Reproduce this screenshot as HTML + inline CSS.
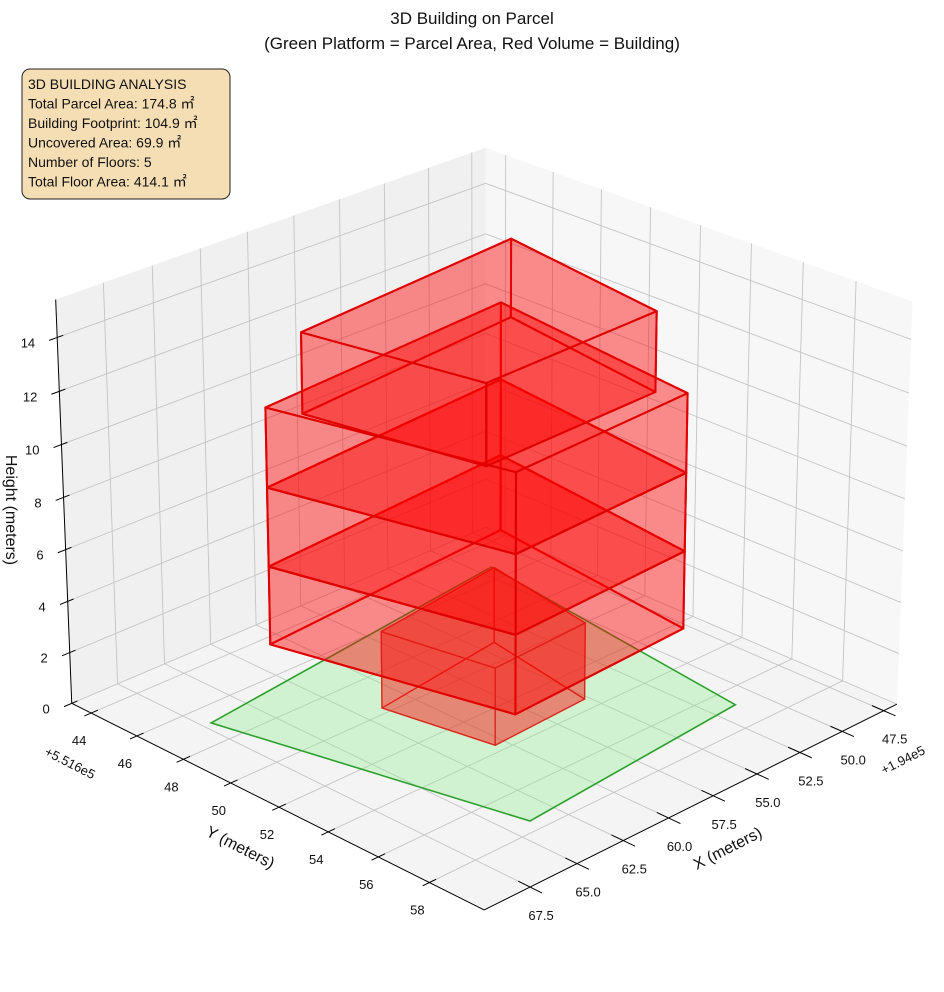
<!DOCTYPE html>
<html><head><meta charset="utf-8"><style>
html,body{margin:0;padding:0;background:#fff;}
svg{display:block;font-family:"Liberation Sans","Noto Sans CJK JP",sans-serif;}
</style></head><body>
<svg id="chart" width="944" height="992" viewBox="0 0 944 992" xmlns="http://www.w3.org/2000/svg">
<g id="panes"></g>
<g id="grid"></g>
<g id="axes"></g>
<g id="marks"></g>
<g id="labels"></g>
<text x="472" y="24" text-anchor="middle" font-size="17" fill="#111">3D Building on Parcel</text>
<text x="472" y="49" text-anchor="middle" font-size="17" fill="#111">(Green Platform = Parcel Area, Red Volume = Building)</text>
<g>
<rect x="22" y="69" width="208" height="130" rx="8" fill="#f5deb3" stroke="#222" stroke-width="1"/>
<text font-size="14" fill="#111">
<tspan x="28" y="89">3D BUILDING ANALYSIS</tspan>
<tspan x="28" y="108.5">Total Parcel Area: 174.8 ㎡</tspan>
<tspan x="28" y="128">Building Footprint: 104.9 ㎡</tspan>
<tspan x="28" y="147.5">Uncovered Area: 69.9 ㎡</tspan>
<tspan x="28" y="167">Number of Floors: 5</tspan>
<tspan x="28" y="186.5">Total Floor Area: 414.1 ㎡</tspan>
</text>
</g>
<text x="238" y="852" text-anchor="middle" font-size="16" fill="#111" transform="rotate(27 238 852)">Y (meters)</text>
<text x="730" y="853" text-anchor="middle" font-size="16" fill="#111" transform="rotate(-27 730 853)">X (meters)</text>
<text x="6" y="510" text-anchor="middle" font-size="16" fill="#111" transform="rotate(90 6 510)">Height (meters)</text>
<text x="68" y="767" text-anchor="middle" font-size="13" fill="#111" transform="rotate(27 68 767)">+5.516e5</text>
<text x="905" y="764" text-anchor="middle" font-size="13" fill="#111" transform="rotate(-27 905 764)">+1.94e5</text>
</svg>
<script>
// ---- data ----
const xTicks = [47.5, 50.0, 52.5, 55.0, 57.5, 60.0, 62.5, 65.0, 67.5];
const xTickLabels = ["47.5","50.0","52.5","55.0","57.5","60.0","62.5","65.0","67.5"];
const yTicks = [44, 46, 48, 50, 52, 54, 56, 58];
const yTickLabels = ["44","46","48","50","52","54","56","58"];
const zTicks = [0, 2, 4, 6, 8, 10, 12, 14];
const zTickLabels = ["0","2","4","6","8","10","12","14"];
const xLim = [46.7, 69.9];
const yLim = [43.14, 60.1];
const zLim = [0, 15.4];
const parcelX = [67.1, 49.3, 51.3, 63.9];
const parcelY = [46.9, 45.3, 56.8, 57.5];
const floorBase = [0, 3, 6, 9, 12];
const floorTop = [3, 6, 9, 12, 15];
const groundFloorX = [61.45, 60.5, 55.2, 54.2];
const groundFloorY = [49.7, 53.65, 53.46, 49.0];
const midFloorX = [65.3, 62.7, 52.8, 51.5];
const midFloorY = [48.05, 56.05, 55.7, 47.3];
const topFloorX = [64.7, 63.1, 53.6, 52.3];
const topFloorY = [49.1, 55.2, 55.0, 48.3];

// ---- camera fit (DLT) ----
const NS = 'http://www.w3.org/2000/svg';
const [x0,x1]=xLim,[y0,y1]=yLim,[z0,z1]=zLim;
const corr = [
 [x1,y0,0,72,703],[x0,y1,0,898,703],[x1,y1,0,484,909],
 [x1,y0,z1,56,300],[x0,y0,z1,485,148],[x0,y1,z1,913,302],
 [x1,44,0,91,714],[x1,58,0,432,883],[47.5,y1,0,883,711],[67.5,y1,0,527,888],[x1,y0,14,57,336]
];
function nx(X){return (X-58)/10;} function ny(Y){return (Y-52)/10;} function nz(Z){return (Z-7.7)/10;}
let rows=[],rhs=[];
corr.forEach(c=>{const X=nx(c[0]),Y=ny(c[1]),Z=nz(c[2]),u=(c[3]-480)/400,v=(c[4]-600)/400;
 rows.push([X,Y,Z,1,0,0,0,0,-u*X,-u*Y,-u*Z]);rhs.push(u);
 rows.push([0,0,0,0,X,Y,Z,1,-v*X,-v*Y,-v*Z]);rhs.push(v);});
const N=11;let M=[];for(let i=0;i<N;i++){M.push(new Array(N+1).fill(0));}
for(let r=0;r<rows.length;r++){for(let i=0;i<N;i++){for(let j=0;j<N;j++)M[i][j]+=rows[r][i]*rows[r][j];M[i][N]+=rows[r][i]*rhs[r];}}
for(let i=0;i<N;i++)M[i][i]+=1e-9;
for(let c=0;c<N;c++){let p=c;for(let r=c+1;r<N;r++)if(Math.abs(M[r][c])>Math.abs(M[p][c]))p=r;[M[c],M[p]]=[M[p],M[c]];
 for(let r=0;r<N;r++){if(r===c)continue;const f=M[r][c]/M[c][c];for(let k=c;k<=N;k++)M[r][k]-=f*M[c][k];}}
const P=M.map((r,i)=>r[N]/r[i]);
function proj(X,Y,Z){const a=nx(X),b=ny(Y),c=nz(Z);const w=P[8]*a+P[9]*b+P[10]*c+1;
 return [480+400*(P[0]*a+P[1]*b+P[2]*c+P[3])/w, 600+400*(P[4]*a+P[5]*b+P[6]*c+P[7])/w];}
function pts(list){return list.map(p=>{const s=proj(p[0],p[1],p[2]);return s[0].toFixed(1)+','+s[1].toFixed(1);}).join(' ');}
function mk(parent,tag,attrs){const e=document.createElementNS(NS,tag);for(const k in attrs)e.setAttribute(k,attrs[k]);document.getElementById(parent).appendChild(e);return e;}

// panes
let e;
e=mk('panes','polygon',{points:pts([[x1,y0,0],[x0,y0,0],[x0,y0,z1],[x1,y0,z1]]),fill:'#f0f0f0'});


e=mk('panes','polygon',{points:pts([[x0,y0,0],[x0,y1,0],[x0,y1,z1],[x0,y0,z1]]),fill:'#f7f7f7'});


e=mk('panes','polygon',{points:pts([[x0,y0,0],[x1,y0,0],[x1,y1,0],[x0,y1,0]]),fill:'#f4f4f4'});



function line(parent,a,b,attrs){const p=proj(a[0],a[1],a[2]),q=proj(b[0],b[1],b[2]);
 const o=Object.assign({x1:p[0],y1:p[1],x2:q[0],y2:q[1]},attrs);return mk(parent,'line',o);}
const gs={stroke:'#c4c4c4','stroke-width':0.9};
xTicks.forEach(x=>{e=line('grid',[x,y0,0],[x,y1,0],gs);
 
 
 e=line('grid',[x,y0,0],[x,y0,z1],gs);
 
 });
yTicks.forEach(y=>{e=line('grid',[x0,y,0],[x1,y,0],gs);
 
 
 e=line('grid',[x0,y,0],[x0,y,z1],gs);
 
 });
zTicks.forEach(z=>{e=line('grid',[x0,y0,z],[x1,y0,z],gs);
 
 
 e=line('grid',[x0,y0,z],[x0,y1,z],gs);
 
 });

// axes
const as={stroke:'#000','stroke-width':1};
e=line('axes',[x1,y0,0],[x1,y1,0],as);


e=line('axes',[x0,y1,0],[x1,y1,0],as);


e=line('axes',[x1,y0,0],[x1,y0,z1],as);


function txt(x,y,s,anchor){const t=mk('labels','text',{x:x,y:y,'font-size':13,fill:'#111','text-anchor':anchor});t.textContent=s;return t;}
yTicks.forEach((y,i)=>{e=line('axes',[x1+0.35,y,0],[x1-0.35,y,0],as);
 
 
 const p=proj(x1,y,0);e=txt(p[0]-12,p[1]+32,yTickLabels[i],'middle');
 
 });
xTicks.forEach((x,i)=>{e=line('axes',[x,y1+0.45,0],[x,y1-0.45,0],as);
 
 
 const p=proj(x,y1,0);e=txt(p[0]+11,p[1]+33,xTickLabels[i],'middle');
 
 });
zTicks.forEach((z,i)=>{e=line('axes',[x1+0.4,y0,z],[x1-0.3,y0,z],as);
 
 
 const p=proj(x1,y0,z);e=txt(p[0]-22,p[1]+10,zTickLabels[i],'end');
 
 });

// parcel
e=mk('marks','polygon',{points:pts(parcelX.map((x,i)=>[x,parcelY[i],0])),fill:'rgba(144,238,144,0.35)',stroke:'#2ca02c','stroke-width':1.6});



// building floors
const footprints=[[groundFloorX,groundFloorY],[midFloorX,midFloorY],[midFloorX,midFloorY],[midFloorX,midFloorY],[topFloorX,topFloorY]];
let faces=[];
floorBase.forEach((zb,f)=>{const zt=floorTop[f];const FX=footprints[f][0],FY=footprints[f][1];
 const n=FX.length;const bot=FX.map((x,i)=>[x,FY[i],zb]),top=FX.map((x,i)=>[x,FY[i],zt]);
 const list=[bot,top];for(let i=0;i<n;i++){const j=(i+1)%n;list.push([[FX[i],FY[i],zb],[FX[j],FY[j],zb],[FX[j],FY[j],zt],[FX[i],FY[i],zt]]);}
 list.forEach(q=>{let d=0;q.forEach(p=>{d+=(x1-p[0])/(x1-x0)+(y1-p[1])/(y1-y0)-0.6*p[2]/(z1-z0);});faces.push({q:q,d:d/q.length,f:f});});});
faces.sort((a,b)=>b.d-a.d);
faces.forEach(fc=>{const g=fc.f===0;
 e=mk('marks','polygon',{points:pts(fc.q),fill:'rgba(255,0,0,0.25)',stroke:g?'rgba(215,40,30,0.9)':'#e00000','stroke-width':g?1.3:2,'stroke-linejoin':'round'});
 
 });
</script>
</body></html>
